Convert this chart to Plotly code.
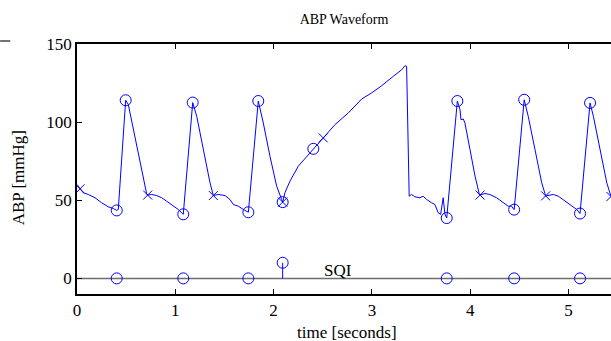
import plotly.graph_objects as go

# ---- data ----
t = [0.000, 0.031, 0.064, 0.115, 0.183, 0.251, 0.318, 0.369, 0.404, 0.420,
     0.495, 0.522, 0.573, 0.624, 0.674, 0.709, 0.719, 0.760, 0.810, 0.862,
     0.912, 0.980, 1.030, 1.081, 1.177, 1.218, 1.285, 1.353, 1.387, 1.437,
     1.506, 1.556, 1.590, 1.641, 1.692, 1.743, 1.844, 1.895, 1.963, 2.031,
     2.082, 2.092, 2.115, 2.166, 2.251, 2.353, 2.404, 2.505, 2.624, 2.760,
     2.896, 2.997, 3.099, 3.217, 3.302, 3.336, 3.353, 3.379, 3.404, 3.437,
     3.488, 3.521, 3.556, 3.607, 3.641, 3.674, 3.699, 3.725, 3.743, 3.761,
     3.869, 3.896, 3.906, 3.930, 3.946, 3.998, 4.049, 4.093, 4.100, 4.150,
     4.200, 4.268, 4.335, 4.386, 4.420, 4.447, 4.549, 4.590, 4.659, 4.727,
     4.767, 4.845, 4.896, 4.964, 5.032, 5.083, 5.117, 5.219, 5.253, 5.321,
     5.389, 5.432, 5.470]
abp = [60.1, 57.3, 54.8, 53.7, 51.6, 48.4, 45.8, 44.7, 43.5, 44.1,
       114.0, 111.2, 95.2, 80.3, 64.3, 54.0, 53.3, 53.7, 53.0, 51.6,
       49.4, 46.6, 44.1, 41.0, 112.5, 103.7, 82.4, 61.2, 53.0, 53.7,
       53.0, 50.5, 47.3, 46.2, 44.1, 42.3, 113.5, 99.5, 78.1, 59.0,
       50.5, 48.8, 54.8, 62.2, 71.8, 79.2, 82.9, 89.9, 98.4, 105.9,
       114.8, 118.7, 123.3, 129.3, 133.5, 136.1, 135.7, 52.6, 53.7, 52.2,
       51.6, 52.6, 50.5, 48.4, 47.3, 42.0, 40.9, 51.6, 40.9, 38.6,
       113.5, 108.0, 101.6, 102.0, 99.5, 82.4, 65.4, 53.7, 53.3, 54.3,
       53.7, 51.6, 48.4, 46.2, 46.2, 44.0, 114.3, 103.7, 82.4, 61.2,
       52.8, 53.7, 52.6, 49.4, 46.2, 44.1, 41.5, 112.3, 103.7, 82.4,
       61.2, 52.4, 48.0]

onset_t = [0.404, 1.081, 1.743, 2.092, 3.761, 4.447, 5.117]
onset_v = [43.5, 41.0, 42.3, 48.8, 38.6, 44.0, 41.5]
peak_t = [0.495, 1.177, 1.844, 2.404, 3.869, 4.549, 5.219]
peak_v = [114.0, 112.5, 113.5, 82.9, 113.5, 114.3, 112.3]
endsys_t = [0.031, 0.719, 1.387, 2.092, 2.505, 4.100, 4.767, 5.432]
endsys_v = [57.3, 53.3, 53.0, 48.8, 89.9, 53.3, 52.8, 52.4]
sqi_v = [0, 0, 0, 10, 0, 0, 0]

x_ticks = [0, 1, 2, 3, 4, 5]
y_ticks = [0, 50, 100, 150]

BLUE = "#0000ff"
FONT = "Liberation Serif"

fig = go.Figure()

# SQI baseline
fig.add_trace(go.Scatter(x=[0, 5.47], y=[0, 0], mode="lines",
                         line=dict(color="#6e6e6e", width=1.5),
                         hoverinfo="skip", showlegend=False))
# waveform
fig.add_trace(go.Scatter(x=t, y=abp, mode="lines",
                         line=dict(color=BLUE, width=1),
                         showlegend=False))
fig.add_trace(go.Scatter(x=onset_t + peak_t, y=onset_v + peak_v, mode="markers",
                         marker=dict(symbol="circle-open", size=11,
                                     line=dict(color=BLUE, width=1), color=BLUE),
                         showlegend=False))
fig.add_trace(go.Scatter(x=endsys_t, y=endsys_v, mode="markers",
                         marker=dict(symbol="x-thin-open", size=9,
                                     line=dict(color=BLUE, width=1), color=BLUE),
                         showlegend=False))
# SQI stems
for xt, v in zip(onset_t, sqi_v):
    if v != 0:
        fig.add_trace(go.Scatter(x=[xt, xt], y=[0, v], mode="lines",
                                 line=dict(color=BLUE, width=1),
                                 showlegend=False, hoverinfo="skip"))
fig.add_trace(go.Scatter(x=onset_t, y=sqi_v, mode="markers",
                         marker=dict(symbol="circle", size=11, color="rgba(0,0,0,0)",
                                     line=dict(color=BLUE, width=1)),
                         showlegend=False))

fig.add_annotation(x=2.654, y=0, text="SQI", showarrow=False,
                   xanchor="center", yanchor="bottom", yshift=-4,
                   font=dict(family=FONT, size=17, color="black"))

# axis titles
fig.add_annotation(xref="paper", yref="paper", x=0.505, y=-0.152,
                   text="time [seconds]", showarrow=False,
                   xanchor="center", yanchor="middle",
                   font=dict(family=FONT, size=17, color="black"))
fig.add_annotation(xref="paper", yref="paper", x=-0.11, y=0.464,
                   text="ABP [mmHg]", showarrow=False, textangle=-90,
                   xanchor="center", yanchor="middle",
                   font=dict(family=FONT, size=17, color="black"))

# small dash top-left
fig.add_shape(type="line", xref="paper", yref="paper",
              x0=-0.144, x1=-0.125, y0=1.012, y1=1.012,
              line=dict(color="#444444", width=1.5))

fig.update_layout(
    width=611, height=341,
    margin=dict(l=77, r=0, t=44, b=47),
    paper_bgcolor="white", plot_bgcolor="white",
    title=dict(text="ABP Waveform", x=0.5, xref="paper", xanchor="center",
               y=1 - 19 / 341, yanchor="middle",
               font=dict(family=FONT, size=14, color="black")),
    font=dict(family=FONT, size=17, color="black"),
    showlegend=False,
)
fig.update_xaxes(range=[0, 5.432], tickvals=x_ticks, ticktext=[str(v) for v in x_ticks],
                 showgrid=False, zeroline=False, showline=True, linecolor="black",
                 linewidth=1.5, mirror="ticks", ticks="inside", ticklen=5,
                 tickcolor="black", tickwidth=1, tickfont=dict(family=FONT, size=17))
fig.update_yaxes(range=[-10, 150], tickvals=y_ticks, ticktext=[str(v) for v in y_ticks],
                 showgrid=False, zeroline=False, showline=True, linecolor="black",
                 linewidth=1.5, mirror=False, ticks="inside", ticklen=5,
                 tickcolor="black", tickwidth=1, tickfont=dict(family=FONT, size=17))

fig.write_html("out.html", config={"displayModeBar": False},
               post_script="document.body.style.margin='0px';document.body.style.overflow='hidden';")
